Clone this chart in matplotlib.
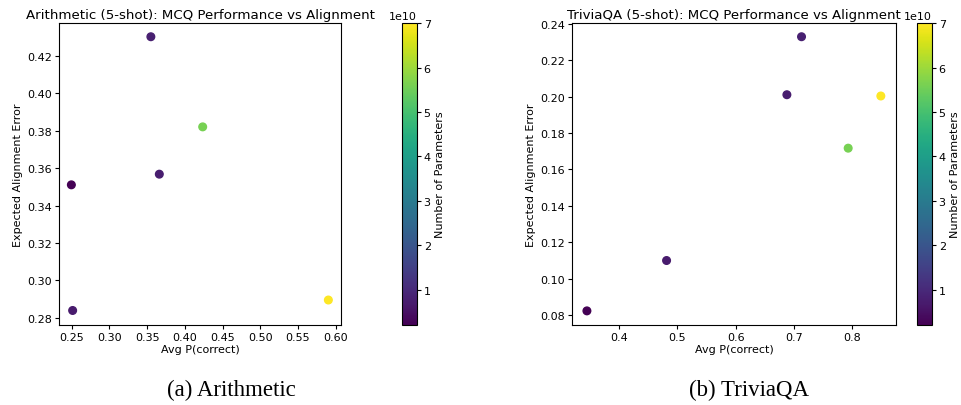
import matplotlib
matplotlib.use("Agg")
import matplotlib.pyplot as plt
import numpy as np

# Arithmetic (5-shot)
arith_x = [0.355, 0.4237, 0.3662, 0.2496, 0.2513, 0.5903]
arith_y = [0.4303, 0.3821, 0.3568, 0.3511, 0.2839, 0.2895]
arith_params = [8.0e9, 5.6e10, 7.5e9, 2.1e9, 7.0e9, 7.0e10]

# TriviaQA (5-shot)
trivia_x = [0.7131, 0.688, 0.8491, 0.7931, 0.4817, 0.3451]
trivia_y = [0.2330, 0.2011, 0.2004, 0.1717, 0.1099, 0.0822]
trivia_params = [8.0e9, 7.5e9, 7.0e10, 5.6e10, 7.0e9, 2.1e9]

vmin, vmax = 2.1e9, 7.0e10

fs_tick = 8
fs_title = 9.6
plt.rcParams['font.size'] = fs_tick

fig = plt.figure(figsize=(9.61, 4.06), dpi=100)

def panel(ax_rect, cb_rect, x, y, c, title, xlim, ylim, xticks, yticks):
    ax = fig.add_axes(ax_rect)
    sc = ax.scatter(x, y, c=c, cmap='viridis', vmin=vmin, vmax=vmax, s=30)
    ax.set_title(title, fontsize=fs_title, pad=4)
    ax.set_xlabel('Avg P(correct)', fontsize=fs_tick, labelpad=2)
    ax.set_ylabel('Expected Alignment Error', fontsize=fs_tick, labelpad=3)
    ax.set_xlim(*xlim)
    ax.set_ylim(*ylim)
    ax.set_xticks(xticks)
    ax.set_yticks(yticks)
    ax.tick_params(labelsize=fs_tick, length=3, pad=2)
    cax = fig.add_axes(cb_rect)
    cb = fig.colorbar(sc, cax=cax)
    cb.set_label('Number of Parameters', fontsize=fs_tick, labelpad=3)
    cb.ax.tick_params(labelsize=fs_tick, length=3, pad=2)
    cb.ax.yaxis.get_offset_text().set_fontsize(fs_tick)
    return ax

panel([0.0617, 0.1978, 0.2934, 0.7424], [0.4183, 0.1978, 0.0153, 0.7424],
      arith_x, arith_y, arith_params,
      'Arithmetic (5-shot): MCQ Performance vs Alignment',
      (0.2336, 0.6074), (0.2763, 0.4375),
      np.arange(0.25, 0.601, 0.05), np.arange(0.28, 0.4201, 0.02))

panel([0.5955, 0.1978, 0.3368, 0.7424], [0.9539, 0.1978, 0.0156, 0.7424],
      trivia_x, trivia_y, trivia_params,
      'TriviaQA (5-shot): MCQ Performance vs Alignment',
      (0.32, 0.875), (0.0746, 0.2404),
      [0.4, 0.5, 0.6, 0.7, 0.8], np.arange(0.08, 0.2401, 0.02))

fig.text(231/961, 1 - 390/406, '(a) Arithmetic', family='Liberation Serif',
         fontsize=16.5, ha='center', va='center')
fig.text(749/961, 1 - 390/406, '(b) TriviaQA', family='Liberation Serif',
         fontsize=16.5, ha='center', va='center')

fig.savefig('out.png', dpi=100)
